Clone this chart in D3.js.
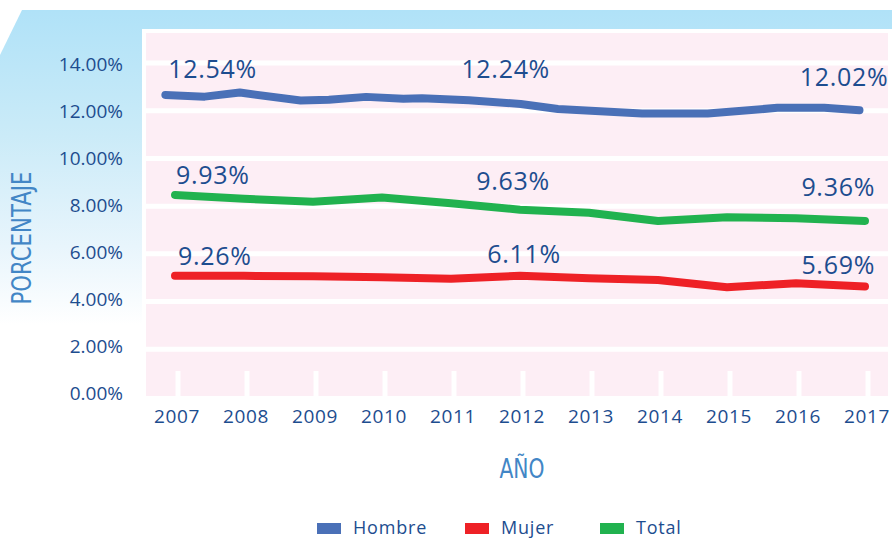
<!DOCTYPE html>
<html>
<head>
<meta charset="utf-8">
<script src="https://cdn.jsdelivr.net/npm/d3@7/dist/d3.min.js"></script>
<style>
    body { margin: 0; background: #ffffff; }
    text { font-family: "Open Sans", "Noto Sans", sans-serif; }
</style>
</head>
<body>
<div id="chart"></div>
<script>
// Data
let years = [2007, 2008, 2009, 2010, 2011, 2012, 2013, 2014, 2015, 2016, 2017];
let yTicks = [0, 2, 4, 6, 8, 10, 12, 14];

// Hombre line has its own (uneven) vertices
let hombreYears = [2006.86, 2007.43, 2007.94, 2008.82, 2009.23, 2009.77, 2010.31, 2010.58,
    2011.26, 2012.01, 2012.55, 2013.77, 2014.72, 2015.73, 2016.41, 2016.92];
let hombreValues = [12.66, 12.59, 12.76, 12.43, 12.46, 12.58, 12.50, 12.52,
    12.44, 12.28, 12.07, 11.88, 11.88, 12.12, 12.12, 12.02];
let totalValues = [8.47, 8.31, 8.18, 8.36, 8.12, 7.85, 7.72, 7.38, 7.53, 7.49, 7.38];
let mujerValues = [5.08, 5.08, 5.06, 5.02, 4.96, 5.08, 4.98, 4.90, 4.60, 4.77, 4.63];

// Value annotations printed on the chart (first, middle, last)
let hombreLabels = ["12.54%", "12.24%", "12.02%"];
let totalLabels = ["9.93%", "9.63%", "9.36%"];
let mujerLabels = ["9.26%", "6.11%", "5.69%"];

let legendNames = ["Hombre", "Mujer", "Total"];

const width = 892, height = 538;
const textColor = "#1d4d8f";
const titleColor = "#4286c6";
const colors = {Hombre: "#4a70b7", Mujer: "#ee2126", Total: "#21b24f"};

let svg = d3.select("#chart")
    .append("svg")
    .attr("width", width)
    .attr("height", height);

// Scales
let x = d3.scaleLinear().domain([2007, 2017]).range([175, 865]);
let y = d3.scaleLinear().domain([0, 14]).range([397, 63]);

// Light blue banner with slanted corner, fading to white on the left
let defs = svg.append("defs");
let grad = defs.append("linearGradient")
    .attr("id", "bannerGrad")
    .attr("gradientUnits", "userSpaceOnUse")
    .attr("x1", 0).attr("y1", 10).attr("x2", 0).attr("y2", 325);
grad.append("stop").attr("offset", 0).attr("stop-color", "#b0e2f8");
grad.append("stop").attr("offset", 0.4).attr("stop-color", "#cbebf8");
grad.append("stop").attr("offset", 0.75).attr("stop-color", "#e8f5fc");
grad.append("stop").attr("offset", 1).attr("stop-color", "#ffffff");

svg.append("path")
    .attr("d", "M22,10 L892,10 L892,325 L0,325 L0,55 Z")
    .attr("fill", "url(#bannerGrad)");

// White frame and pink plot panel
svg.append("rect")
    .attr("x", 142).attr("y", 29)
    .attr("width", 750).attr("height", 300)
    .attr("fill", "#ffffff");
svg.append("rect")
    .attr("x", 146).attr("y", 33)
    .attr("width", 742).attr("height", 363)
    .attr("fill", "#fdeef5");

// White gridlines
svg.append("g")
    .selectAll("line")
    .data(yTicks.filter(function(d) { return d > 0; }))
    .enter().append("line")
    .attr("x1", 146).attr("x2", 888)
    .attr("y1", function(d) { return y(d); })
    .attr("y2", function(d) { return y(d); })
    .attr("stroke", "#ffffff")
    .attr("stroke-width", 5);

// White year tick marks at the bottom of the panel
svg.append("g")
    .selectAll("line")
    .data(years)
    .enter().append("line")
    .attr("x1", function(d) { return x(d) + 3; })
    .attr("x2", function(d) { return x(d) + 3; })
    .attr("y1", 371).attr("y2", 396)
    .attr("stroke", "#ffffff")
    .attr("stroke-width", 5);

// Y tick labels (the printed labels sit a little tighter than the gridlines)
svg.append("g")
    .selectAll("text")
    .data(yTicks)
    .enter().append("text")
    .attr("x", 123)
    .attr("y", function(d) { return y(d) - 4 + d * 0.36; })
    .attr("dy", "0.36em")
    .attr("text-anchor", "end")
    .attr("fill", textColor)
    .style("font-size", "19px")
    .text(function(d) { return d3.format(".2f")(d) + "%"; });

// X tick labels
svg.append("g")
    .selectAll("text")
    .data(years)
    .enter().append("text")
    .attr("x", function(d) { return x(d) + 2; })
    .attr("y", 423)
    .attr("text-anchor", "middle")
    .attr("fill", textColor)
    .style("font-size", "19px")
    .style("letter-spacing", "0.6px")
    .text(function(d) { return d; });

// Axis titles
svg.append("text")
    .attr("transform", "translate(31, 238) rotate(-90)")
    .attr("text-anchor", "middle")
    .attr("fill", titleColor)
    .attr("textLength", 133)
    .attr("lengthAdjust", "spacingAndGlyphs")
    .style("font-family", "'Liberation Sans Narrow', 'DejaVu Sans Condensed', sans-serif")
    .style("font-size", "27px")
    .text("PORCENTAJE");

svg.append("text")
    .attr("x", 522).attr("y", 478)
    .attr("text-anchor", "middle")
    .attr("fill", titleColor)
    .attr("textLength", 45)
    .attr("lengthAdjust", "spacingAndGlyphs")
    .style("font-family", "'Liberation Sans Narrow', 'DejaVu Sans Condensed', sans-serif")
    .style("font-size", "27px")
    .text("AÑO");

// Series
let series = [
    {name: "Hombre", xs: hombreYears, ys: hombreValues, labels: hombreLabels, idx: [0, 9, 15],
        offsets: [[3, -17], [-15, -26], [29, -24]]},
    {name: "Total", xs: years, ys: totalValues, labels: totalLabels, idx: [0, 5, 10],
        offsets: [[1, -11], [-7, -20], [10, -25]]},
    {name: "Mujer", xs: years, ys: mujerValues, labels: mujerLabels, idx: [0, 5, 10],
        offsets: [[3, -11], [4, -13], [10, -13]]}
];

let line = d3.line()
    .x(function(d) { return x(d[0]); })
    .y(function(d) { return y(d[1]); });

let anchors = ["start", "middle", "end"];

series.forEach(function(s) {
    let pts = s.xs.map(function(v, i) { return [v, s.ys[i]]; });
    svg.append("path")
        .datum(pts)
        .attr("d", line)
        .attr("fill", "none")
        .attr("stroke", colors[s.name])
        .attr("stroke-width", 8)
        .attr("stroke-linecap", "round")
        .attr("stroke-linejoin", "round");

    svg.append("g")
        .selectAll("text")
        .data(s.labels)
        .enter().append("text")
        .attr("x", function(d, i) { return x(pts[s.idx[i]][0]) + s.offsets[i][0]; })
        .attr("y", function(d, i) { return y(pts[s.idx[i]][1]) + s.offsets[i][1]; })
        .attr("text-anchor", function(d, i) { return anchors[i]; })
        .attr("fill", textColor)
        .style("font-size", "25px")
        .style("letter-spacing", "0.7px")
        .text(function(d) { return d; });
});

// Legend
let legendX = [317, 465, 600];
let legend = svg.append("g")
    .selectAll("g")
    .data(legendNames)
    .enter().append("g")
    .attr("transform", function(d, i) { return `translate(${legendX[i]}, 523)`; });
legend.append("rect")
    .attr("width", 24).attr("height", 11)
    .attr("fill", function(d) { return colors[d]; });
legend.append("text")
    .attr("x", 36).attr("y", 11)
    .attr("fill", textColor)
    .style("font-size", "18px")
    .style("letter-spacing", "0.8px")
    .text(function(d) { return d; });
</script>
</body>
</html>
